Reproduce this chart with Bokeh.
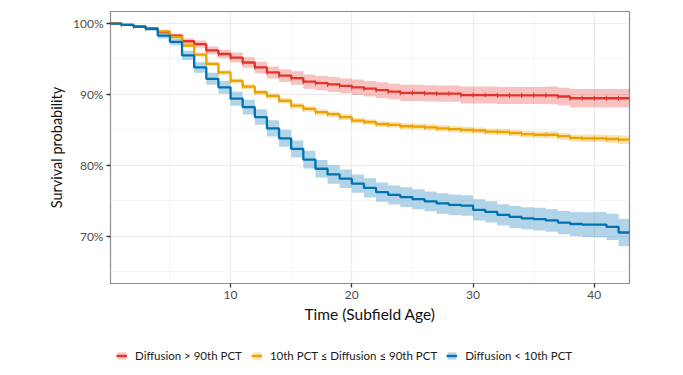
import math
from bokeh.plotting import figure
from bokeh.layouts import column
from bokeh.models import Range1d, FixedTicker, Legend, LegendItem, ColumnDataSource
from bokeh.embed import file_html
from bokeh.resources import INLINE

# ---- data ----
times = [0, 1, 2, 3, 4, 5, 6, 7, 8, 9, 10, 11, 12, 13, 14, 15, 16, 17, 18, 19, 20,
         21, 22, 23, 24, 25, 26, 27, 28, 29, 30, 31, 32, 33, 34, 35, 36, 37, 38, 39, 40, 41, 42]
end_time = 43

surv_high = [100, 99.8, 99.6, 99.3, 98.8, 98.3, 97.5, 97.1, 96.2, 95.7, 95.2, 94.5, 93.8, 93.1, 92.65,
             92.3, 91.8, 91.6, 91.4, 91.2, 91.0, 90.8, 90.6, 90.4, 90.2, 90.2, 90.15, 90.1, 90.1, 89.9,
             89.9, 89.9, 89.85, 89.85, 89.85, 89.85, 89.85, 89.7, 89.45, 89.45, 89.45, 89.45, 89.45]
ci_high = [0, 0.1, 0.15, 0.2, 0.25, 0.3, 0.4, 0.5, 0.55, 0.6, 0.7, 0.75, 0.8, 0.85, 0.9,
           0.95, 1.0, 1.0, 1.05, 1.05, 1.1, 1.1, 1.1, 1.1, 1.15, 1.15, 1.15, 1.15, 1.15, 1.2,
           1.2, 1.2, 1.2, 1.2, 1.2, 1.2, 1.25, 1.25, 1.3, 1.3, 1.3, 1.3, 1.3]

surv_mid = [100, 99.8, 99.55, 99.25, 98.9, 98.1, 96.9, 95.6, 94.3, 93.1, 91.9, 91.1, 90.3, 89.8, 89.1,
            88.4, 87.95, 87.5, 87.2, 86.8, 86.3, 86.1, 85.8, 85.7, 85.5, 85.45, 85.35, 85.2, 85.1, 85.0,
            84.9, 84.75, 84.7, 84.55, 84.4, 84.3, 84.3, 84.1, 83.85, 83.8, 83.8, 83.7, 83.6]
ci_mid = [0, 0.05, 0.1, 0.12, 0.15, 0.2, 0.25, 0.3, 0.3, 0.32, 0.35, 0.35, 0.37, 0.37, 0.38,
          0.38, 0.4, 0.4, 0.4, 0.4, 0.4, 0.4, 0.42, 0.42, 0.42, 0.42, 0.43, 0.43, 0.43, 0.44,
          0.44, 0.45, 0.45, 0.46, 0.46, 0.47, 0.48, 0.5, 0.5, 0.52, 0.52, 0.55, 0.6]

surv_low = [100, 99.8, 99.55, 99.25, 98.3, 97.4, 95.5, 93.8, 92.2, 91.0, 89.4, 88.2, 86.8, 85.2, 83.8,
            82.3, 80.8, 79.5, 78.7, 78.1, 77.4, 76.8, 76.2, 75.8, 75.5, 75.2, 74.9, 74.6, 74.4, 74.3,
            73.7, 73.4, 73.0, 72.7, 72.5, 72.4, 72.2, 71.9, 71.7, 71.6, 71.6, 71.3, 70.5]
ci_low = [0, 0.1, 0.15, 0.25, 0.4, 0.5, 0.65, 0.75, 0.85, 0.9, 1.0, 1.05, 1.1, 1.15, 1.2,
          1.2, 1.25, 1.25, 1.3, 1.3, 1.3, 1.35, 1.35, 1.35, 1.4, 1.4, 1.4, 1.45, 1.45, 1.45,
          1.5, 1.5, 1.5, 1.55, 1.55, 1.6, 1.6, 1.65, 1.7, 1.75, 1.8, 1.85, 1.95]

labels = ["Diffusion > 90th PCT", "10th PCT \u2264 Diffusion \u2264 90th PCT", "Diffusion < 10th PCT"]
colors = ["#E3342A", "#EAA300", "#0072B2"]
censor_marks = [True, True, False]

x_ticks = [10, 20, 30, 40]
x_minor = [5, 15, 25, 35]
y_ticks = [70, 80, 90, 100]
y_minor = [65, 75, 85, 95]
y_tick_labels = ["70%", "80%", "90%", "100%"]

FONT = "Lato"
W = 667

p = figure(width=W, height=330, output_backend="svg", toolbar_location=None,
           x_range=Range1d(0.1, 42.9), y_range=Range1d(63.3, 101.7),
           min_border_left=110, min_border_right=38, min_border_top=11, min_border_bottom=47)
p.background_fill_color = "white"
p.border_fill_color = "white"
p.outline_line_color = "#8C8C8C"
p.outline_line_width = 1.2

for ax in (p.xaxis, p.yaxis):
    ax.axis_line_color = None
    ax.major_tick_in = 0
    ax.major_tick_out = 4
    ax.major_tick_line_color = "#333333"
    ax.major_tick_line_width = 1.3
    ax.minor_tick_line_color = None
    ax.major_label_text_font = FONT
    ax.major_label_text_font_size = "12px"
    ax.major_label_text_color = "#4D4D4D"
    ax.axis_label_text_font = FONT
    ax.axis_label_text_font_style = "normal"
    ax.axis_label_text_color = "#111111"
    ax.major_label_standoff = 3

p.xaxis.axis_label_text_font_size = "15.5px"
p.yaxis.axis_label_text_font_size = "14.5px"
p.xaxis.ticker = FixedTicker(ticks=x_ticks, minor_ticks=x_minor)
p.yaxis.ticker = FixedTicker(ticks=y_ticks, minor_ticks=y_minor)
p.yaxis.major_label_overrides = {t: l for t, l in zip(y_ticks, y_tick_labels)}
p.xaxis.axis_label = "Time (Subfield Age)"
p.yaxis.axis_label = "Survival probability"
p.xaxis.axis_label_standoff = 3
p.yaxis.axis_label_standoff = 5

for g in (p.xgrid, p.ygrid):
    g.grid_line_color = "#EBEBEB"
    g.grid_line_width = 1.2
    g.minor_grid_line_color = "#F3F3F3"
    g.minor_grid_line_width = 0.8

series = [surv_high, surv_mid, surv_low]
sources = []
for surv, ci in zip(series, [ci_high, ci_mid, ci_low]):
    xs = times + [end_time]
    ys = surv + [surv[-1]]
    lo = [s - c for s, c in zip(surv, ci)] + [surv[-1] - ci[-1]]
    hi = [s + c for s, c in zip(surv, ci)] + [surv[-1] + ci[-1]]
    sources.append(ColumnDataSource(dict(x=xs, y=ys, lo=lo, hi=hi)))

for src, col in zip(sources, colors):
    p.varea_step(x="x", y1="lo", y2="hi", source=src, step_mode="after",
                 fill_color=col, fill_alpha=0.3)

for src, col, surv, cm in zip(sources, colors, series, censor_marks):
    p.step(x="x", y="y", source=src, mode="after", line_color=col, line_width=2.3)
    if cm:
        p.scatter(x=times[1:], y=surv[1:], marker="dash", angle=math.pi / 2, size=5,
                  line_color=col, line_width=1)

# ---- legend strip below the plot (its data ranges hide the glyphs) ----
lf = figure(width=W, height=37, output_backend="svg", toolbar_location=None,
            x_range=Range1d(-10, -9), y_range=Range1d(0, 1),
            min_border_left=0, min_border_right=0, min_border_top=0, min_border_bottom=0)
lf.xaxis.visible = False
lf.yaxis.visible = False
lf.xgrid.visible = False
lf.ygrid.visible = False
lf.outline_line_color = None

items = []
for src, col, lab in zip(sources, colors, labels):
    b = lf.varea_step(x="x", y1="lo", y2="hi", source=src, step_mode="after",
                      fill_color=col, fill_alpha=0.3)
    l = lf.step(x="x", y="y", source=src, mode="after", line_color=col, line_width=2.3)
    items.append(LegendItem(label=lab, renderers=[b, l]))

legend = Legend(items=items, orientation="horizontal", location=(6, 5),
                label_text_font=FONT, label_text_font_size="11.5px", label_text_color="#1A1A1A",
                glyph_width=11, glyph_height=9, label_standoff=8, spacing=9,
                padding=2, margin=0, border_line_color=None, background_fill_alpha=0)
lf.add_layout(legend, "center")

layout = column(p, lf)
open("out.html", "w").write(file_html(layout, INLINE))
